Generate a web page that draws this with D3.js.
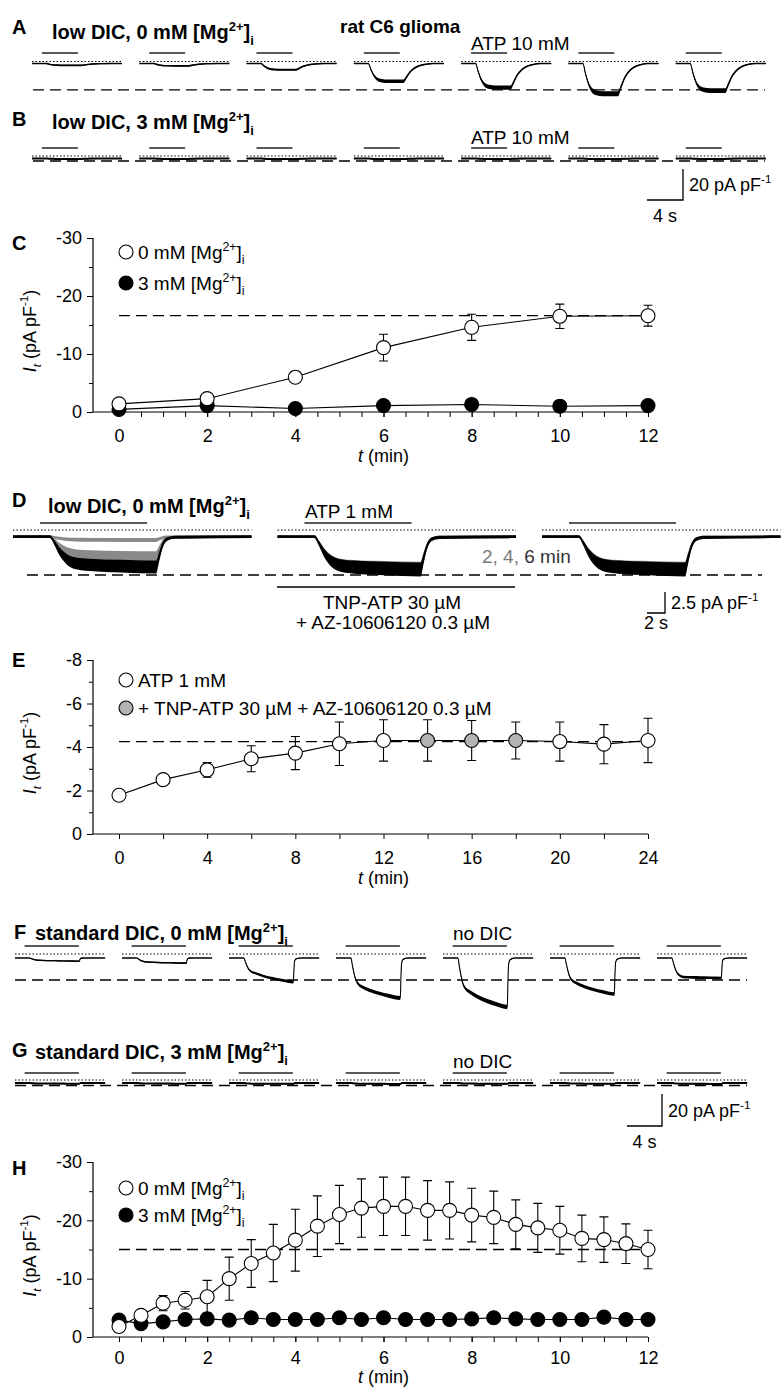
<!DOCTYPE html>
<html>
<head>
<meta charset="utf-8">
<script src="https://cdn.jsdelivr.net/npm/d3@7"></script>
<style>
body{margin:0;background:#fff}
svg{display:block;background:#fff}
text{font-family:"Liberation Sans",Arial,Helvetica,sans-serif;fill:#000}
</style>
</head>
<body>
<svg id="fig" width="783" height="1389"></svg>
<script>
// ---------- data ----------
// A / B : peak current of each ATP 10 mM application, pA pF-1 relative to holding
var aAmp=[-1.2,-1.5,-4.0,-11.5,-15.5,-19.5,-17.5];
var bAmp=[-0.3,-0.3,-0.4,-0.4,-0.3,-0.4,-0.3];
var aHold=-1.3, bHold=-1.6;
var aDash=-18.3, bDash=-3.2;
// trace kinetics [s, fraction of amplitude]
var shapeA=[[0,0],[1.6,0],[1.9,0.35],[2.2,0.65],[2.6,0.88],[3.1,0.97],[3.8,1],[5.5,1],[5.8,0.8],[6.2,0.5],[6.7,0.27],[7.3,0.12],[8,0.04],[8.8,0],[10,0]];

// C
var cTime=[0,2,4,6,8,10,12];
var c0Mg=[-1.4,-2.3,-6.0,-11.1,-14.6,-16.5,-16.6];
var c0MgErr=[0.3,0.3,0.5,2.3,2.25,2.1,1.8];
var c3Mg=[-0.45,-1.1,-0.6,-1.1,-1.3,-1.0,-1.1];
var cPlateau=-16.6;

// D : ATP 1 mM, three groups of superimposed traces (2, 4, 6 min)
var dGroup1=[-0.4,-2.3,-3.6];
var dGroup2=[-3.8,-3.9];
var dGroup3=[-3.8,-3.9];
var dHold=-0.8, dDash=-5.36;
var shapeD=[[0,0],[4.1,0],[4.6,0.2],[5.2,0.5],[6,0.75],[7,0.88],[8.5,0.93],[12,0.97],[15.9,1],[16.2,0.7],[16.6,0.3],[17.1,0.08],[18,0.02],[26.5,0]];

// E
var eTime=[0,2,4,6,8,10,12,14,16,18,20,22,24];
var eAtp=[-1.78,-2.5,-2.95,-3.46,-3.72,-4.15,-4.3,-4.3,-4.3,-4.3,-4.25,-4.13,-4.3];
var eAtpErr=[0.1,0.15,0.34,0.6,0.76,1.0,0.95,0.95,0.92,0.85,0.9,0.9,1.02];
var eBlocker=[0,0,0,0,0,0,0,1,1,1,0,0,0];
var ePlateau=-4.25;

// F / G : [fast, final] amplitude of each application
var fAmp=[[-1.5,-2],[-2.5,-3.2],[-9.4,-15],[-18,-25],[-21,-30.6],[-15.6,-22.5],[-11.9,-12.5]];
var gAmp=[[-0.3,-0.4],[-0.3,-0.4],[-0.4,-0.5],[-0.4,-0.6],[-0.3,-0.5],[-0.3,-0.5],[-0.4,-0.6]];
var fHold=-2.5, gHold=-1.9;
var fDash=-16.25, gDash=-3.4;
// [s, fast weight, slow weight]
var shapeF=[[0,0,0],[1.7,0,0],[1.9,0.3,0],[2.2,0.7,0],[2.6,0.92,0],[3.0,1,0],[4,1,0.35],[5,1,0.6],[6,1,0.8],[7.35,1,1],[7.42,0.5,0.5],[7.5,0.12,0.12],[7.7,0.03,0.03],[8.2,0,0],[10.3,0,0]];

// H
var hTime=[0,0.5,1,1.5,2,2.5,3,3.5,4,4.5,5,5.5,6,6.5,7,7.5,8,8.5,9,9.5,10,10.5,11,11.5,12];
var h0Mg=[-1.8,-3.7,-5.8,-6.3,-6.9,-10.0,-12.6,-14.4,-16.6,-19.0,-21.0,-22.1,-22.4,-22.4,-21.7,-21.7,-20.9,-20.5,-19.3,-18.7,-18.3,-16.9,-16.7,-16.0,-15.0];
var h0MgErr=[0.3,0.6,1.3,1.5,2.8,3.7,4.1,4.9,5.3,5.2,5.0,5.0,5.0,5.0,5.1,4.9,4.6,4.5,4.2,4.2,4.1,4.0,3.9,3.4,3.3];
var h3Mg=[-2.9,-2.3,-2.6,-3.0,-3.1,-2.9,-3.3,-3.0,-3.0,-3.0,-3.3,-3.0,-3.3,-3.0,-3.0,-3.0,-3.1,-3.3,-3.1,-3.0,-3.0,-3.0,-3.4,-3.0,-3.0];
var hPlateau=-15;

// ---------- helpers ----------
var svg=d3.select("#fig");
var FONT='"Liberation Sans", Arial, Helvetica, sans-serif';
var AX=93; // x of the y axes

function rich(g,x,y,parts,size,o){
  o=o||{};
  var t=g.append("text").attr("x",x).attr("y",y).attr("font-size",size)
    .attr("text-anchor",o.anchor||"start");
  if(o.bold) t.attr("font-weight","bold");
  if(o.rotate) t.attr("transform","rotate(-90,"+x+","+y+")");
  var shift=0;
  parts.forEach(function(p){
    var st=p[1]||"";
    var tgt=/sup/.test(st)? -0.42*size : (/sub/.test(st)? 0.28*size : 0);
    var s=t.append("tspan").attr("dy",tgt-shift).text(p[0]);
    shift=tgt;
    if(tgt) s.attr("font-size",size*0.65);
    if(/it/.test(st)) s.attr("font-style","italic");
    if(p[2]) s.attr("fill",p[2]);
  });
  return t;
}
function mg(c){ return [[c+" mM [Mg"],["2+","sup"],["]"],["i","sub"]]; }
function hline(x1,x2,y,o){
  o=o||{};
  return svg.append("line").attr("x1",x1).attr("x2",x2).attr("y1",y).attr("y2",y)
    .attr("stroke",o.c||"#000").attr("stroke-width",o.w||1.2)
    .attr("stroke-dasharray",o.dash||null);
}
function relAt(p,amp){
  if(typeof amp==="number") return p[1]*amp;
  return p[1]*amp[0]+p[2]*(amp[1]-amp[0]);
}

// one row of current recordings
function traceRow(o){
  var g=svg.append("g");
  var ys=d3.scaleLinear().domain([0,-1]).range([o.zero,o.zero+o.ppa]);
  o.groups.forEach(function(grp,i){
    var x0=o.x0+i*o.step;
    var xs=d3.scaleLinear().domain([0,o.len]).range([x0,x0+o.len*o.pxs]);
    g.append("line").attr("x1",x0).attr("x2",xs(o.len)).attr("y1",ys(0)).attr("y2",ys(0))
      .attr("stroke","#000").attr("stroke-width",1.2).attr("stroke-dasharray","1.5,2");
    if(o.barY!=null)
      g.append("line").attr("x1",xs(o.bar[0])).attr("x2",xs(o.bar[1]))
        .attr("y1",o.barY).attr("y2",o.barY).attr("stroke","#222").attr("stroke-width",1.4);
    grp.forEach(function(amp,j){
      var col=o.colors? o.colors[i][j] : "#000";
      var pts=o.shape.map(function(p){
        var r=relAt(p,amp);
        return {x:xs(p[0]),y:ys(o.hold+r),n:o.nz[0]+o.nz[1]*Math.abs(r)*o.ppa};
      });
      g.append("path").datum(pts)
        .attr("d",d3.area().x(function(d){return d.x;}).y0(function(d){return d.y-d.n;})
          .y1(function(d){return d.y+d.n;}).curve(d3.curveMonotoneX))
        .attr("fill",col);
      g.append("path").datum(pts)
        .attr("d",d3.line().x(function(d){return d.x;}).y(function(d){return d.y;}).curve(d3.curveMonotoneX))
        .attr("fill","none").attr("stroke",col).attr("stroke-width",1.1);
    });
  });
  g.append("line").attr("x1",o.dashX[0]).attr("x2",o.dashX[1])
    .attr("y1",ys(o.dash)).attr("y2",ys(o.dash))
    .attr("stroke","#000").attr("stroke-width",1.4).attr("stroke-dasharray","11,6");
  return ys;
}

function scaleBar(x,yBottom,hPx,wPx,label,tLabel,tY){
  svg.append("path").attr("d","M"+(x-wPx)+","+yBottom+"H"+x+"V"+(yBottom-hPx))
    .attr("fill","none").attr("stroke","#000").attr("stroke-width",1.3);
  rich(svg,x+6,yBottom-hPx/2+6.5,label,18);
  rich(svg,x-wPx/2,tY,[[tLabel]],18,{anchor:"middle"});
}

// x/y axes of a summary plot
function plotAxes(xs,ys,o){
  var g=svg.append("g");
  var y0=ys(0);
  var pad=o.pad||12, tOff=o.tOff||50;
  g.append("line").attr("x1",AX).attr("x2",AX).attr("y1",ys(o.top)).attr("y2",y0)
    .attr("stroke","#000").attr("stroke-width",1.2);
  g.append("line").attr("x1",AX).attr("x2",xs.range()[1]).attr("y1",y0).attr("y2",y0)
    .attr("stroke","#000").attr("stroke-width",1.2);
  var ya=g.append("g").attr("transform","translate("+AX+",0)")
    .call(d3.axisLeft(ys).tickValues(o.yMajor).tickFormat(function(d){return String(d);}).tickSize(6).tickPadding(5));
  var ym=g.append("g").attr("transform","translate("+AX+",0)")
    .call(d3.axisLeft(ys).tickValues(o.yMinor).tickFormat("").tickSize(4));
  var xa=g.append("g").attr("transform","translate(0,"+y0+")")
    .call(d3.axisBottom(xs).tickValues(o.xMajor).tickFormat(function(d){return String(d);}).tickSize(5).tickPadding(pad));
  var xm=g.append("g").attr("transform","translate(0,"+y0+")")
    .call(d3.axisBottom(xs).tickValues(o.xMinor).tickFormat("").tickSize(5));
  [ya,ym,xa,xm].forEach(function(a){
    a.select(".domain").remove();
    a.attr("font-size",18).attr("font-family",FONT);
    a.selectAll("line").attr("stroke-width",1);
  });
  rich(svg,(xs.range()[0]+xs.range()[1])/2,y0+tOff,[["t","it"],[" (min)"]],18,{anchor:"middle"});
  rich(svg,36,(ys(o.top)+y0)/2+6,[["I","it"],["t","itsub"],[" (pA pF"],["-1","sup"],[")"]],18,{anchor:"middle",rotate:true});
}

function series(g,xs,ys,t,v,err){
  g.append("path").datum(v)
    .attr("d",d3.line().x(function(d,i){return xs(t[i]);}).y(function(d){return ys(d);}))
    .attr("fill","none").attr("stroke","#000").attr("stroke-width",1.1);
  if(err) v.forEach(function(d,i){
    var x=xs(t[i]), a=ys(d-err[i]), b=ys(d+err[i]);
    g.append("path").attr("d","M"+x+","+a+"V"+b+"M"+(x-4.5)+","+a+"H"+(x+4.5)+"M"+(x-4.5)+","+b+"H"+(x+4.5))
      .attr("fill","none").attr("stroke","#000").attr("stroke-width",1.1);
  });
}
function dots(g,xs,ys,t,v,fill){
  g.selectAll(null).data(v).enter().append("circle")
    .attr("cx",function(d,i){return xs(t[i]);}).attr("cy",function(d){return ys(d);})
    .attr("r",7).attr("fill",typeof fill==="function"?function(d,i){return fill(i);}:fill)
    .attr("stroke","#000").attr("stroke-width",1.1);
}
function legendRow(cx,cy,fill,parts){
  svg.append("circle").attr("cx",cx).attr("cy",cy).attr("r",7).attr("fill",fill)
    .attr("stroke","#000").attr("stroke-width",1.1);
  rich(svg,cx+12,cy+6.8,parts,19);
}

// ---------- A ----------
rich(svg,12,34,[["A"]],20,{bold:true});
rich(svg,52,39,[["low DIC, 0 mM [Mg"],["2+","sup"],["]"],["i","sub"]],20,{bold:true});
rich(svg,340,33,[["rat C6 glioma"]],19,{bold:true});
rich(svg,471,50,[["ATP 10 mM"]],19);
traceRow({groups:aAmp.map(function(a){return [a];}),x0:32,step:107.3,pxs:9,len:10,zero:61.5,ppa:1.55,
  hold:aHold,shape:shapeA,bar:[1.1,5.1],barY:53,nz:[0.7,0.06],dash:aDash,dashX:[33,765]});

// ---------- B ----------
rich(svg,12,126,[["B"]],20,{bold:true});
rich(svg,52,129,[["low DIC, 3 mM [Mg"],["2+","sup"],["]"],["i","sub"]],20,{bold:true});
rich(svg,471,144,[["ATP 10 mM"]],19);
traceRow({groups:bAmp.map(function(a){return [a];}),x0:32,step:107.3,pxs:9,len:10,zero:156,ppa:1.55,
  hold:bHold,shape:shapeA,bar:[1.1,5.1],barY:148,nz:[1.0,0],dash:bDash,dashX:[33,765]});
scaleBar(683,200,20*1.55,4*9,[["20 pA pF"],["-1","sup"]],"4 s",222);

// ---------- C ----------
rich(svg,12,250,[["C"]],20,{bold:true});
var xC=d3.scaleLinear().domain([0,12]).range([119,648]);
var yC=d3.scaleLinear().domain([0,-30]).range([412,238]);
plotAxes(xC,yC,{top:-30,yMajor:[-30,-20,-10,0],yMinor:[-25,-15,-5],xMajor:[0,2,4,6,8,10,12],
  xMinor:d3.range(0,12.01,0.5)});
svg.append("line").attr("x1",xC(0)).attr("x2",xC(12)).attr("y1",yC(cPlateau)).attr("y2",yC(cPlateau))
  .attr("stroke","#000").attr("stroke-width",1.3).attr("stroke-dasharray","11,6");
var gC=svg.append("g");
series(gC,xC,yC,cTime,c3Mg,null);
series(gC,xC,yC,cTime,c0Mg,c0MgErr);
dots(gC,xC,yC,cTime,c3Mg,"#000");
dots(gC,xC,yC,cTime,c0Mg,"#fff");
legendRow(126,252,"#fff",mg("0"));
legendRow(126,283,"#000",mg("3"));

// ---------- D ----------
rich(svg,12,507,[["D"]],20,{bold:true});
rich(svg,48,513,[["low DIC, 0 mM [Mg"],["2+","sup"],["]"],["i","sub"]],20,{bold:true});
rich(svg,305,518,[["ATP 1 mM"]],19);
traceRow({groups:[dGroup1,dGroup2,dGroup3],colors:[["#8a8a8a","#8a8a8a","#000"],["#8a8a8a","#000"],["#8a8a8a","#000"]],
  x0:13,step:264.5,pxs:9,len:26.5,zero:530,ppa:8.4,hold:dHold,shape:shapeD,bar:[3.0,14.9],barY:523,
  nz:[1.4,0.17],dash:dDash,dashX:[27,762]});
rich(svg,482,563,[["2, 4, ","","#7a7a7a"],["6 min","","#333"]],19);
hline(277,515,587,{w:1.3});
rich(svg,392,609,[["TNP-ATP 30 µM"]],19,{anchor:"middle"});
rich(svg,393,629,[["+ AZ-10606120 0.3 µM"]],19,{anchor:"middle"});
scaleBar(665,613,2.5*8.4,2*9,[["2.5 pA pF"],["-1","sup"]],"2 s",629);

// ---------- E ----------
rich(svg,12,667,[["E"]],20,{bold:true});
var xE=d3.scaleLinear().domain([0,24]).range([119,648]);
var yE=d3.scaleLinear().domain([0,-8]).range([834,660]);
plotAxes(xE,yE,{top:-8,yMajor:[-8,-6,-4,-2,0],yMinor:[-7,-5,-3,-1],xMajor:[0,4,8,12,16,20,24],
  xMinor:[2,6,10,14,18,22]});
svg.append("line").attr("x1",xE(0)).attr("x2",xE(24)).attr("y1",yE(ePlateau)).attr("y2",yE(ePlateau))
  .attr("stroke","#000").attr("stroke-width",1.3).attr("stroke-dasharray","11,6");
var gE=svg.append("g");
series(gE,xE,yE,eTime,eAtp,eAtpErr);
dots(gE,xE,yE,eTime,eAtp,function(i){return eBlocker[i]?"#b3b3b3":"#fff";});
legendRow(126,680,"#fff",[["ATP 1 mM"]]);
legendRow(126,708,"#b3b3b3",[["+ TNP-ATP 30 µM + AZ-10606120 0.3 µM"]]);

// ---------- F ----------
rich(svg,14,939,[["F"]],20,{bold:true});
rich(svg,35,940,[["standard DIC, 0 mM [Mg"],["2+","sup"],["]"],["i","sub"]],20,{bold:true});
rich(svg,453,940,[["no DIC"]],19);
traceRow({groups:fAmp.map(function(a){return [a];}),x0:15,step:107,pxs:8.75,len:10.3,zero:954,ppa:1.6,
  hold:fHold,shape:shapeF,bar:[1.1,7.3],barY:946,nz:[0.6,0.035],dash:fDash,dashX:[15,747]});

// ---------- G ----------
rich(svg,12,1057,[["G"]],20,{bold:true});
rich(svg,35,1059,[["standard DIC, 3 mM [Mg"],["2+","sup"],["]"],["i","sub"]],20,{bold:true});
rich(svg,453,1068,[["no DIC"]],19);
traceRow({groups:gAmp.map(function(a){return [a];}),x0:15,step:107,pxs:8.75,len:10.3,zero:1080,ppa:1.6,
  hold:gHold,shape:shapeF,bar:[1.1,7.3],barY:1073,nz:[1.0,0],dash:gDash,dashX:[15,747]});
scaleBar(662,1126,20*1.6,4*8.75,[["20 pA pF"],["-1","sup"]],"4 s",1148);

// ---------- H ----------
rich(svg,12,1175,[["H"]],20,{bold:true});
var xH=d3.scaleLinear().domain([0,12]).range([119,648]);
var yH=d3.scaleLinear().domain([0,-30]).range([1337,1162]);
plotAxes(xH,yH,{top:-30,yMajor:[-30,-20,-10,0],yMinor:[-25,-15,-5],xMajor:[0,2,4,6,8,10,12],
  xMinor:hTime,pad:9,tOff:46});
svg.append("line").attr("x1",xH(0)).attr("x2",xH(12)).attr("y1",yH(hPlateau)).attr("y2",yH(hPlateau))
  .attr("stroke","#000").attr("stroke-width",1.3).attr("stroke-dasharray","11,6");
var gH=svg.append("g");
series(gH,xH,yH,hTime,h3Mg,null);
series(gH,xH,yH,hTime,h0Mg,h0MgErr);
dots(gH,xH,yH,hTime,h3Mg,"#000");
dots(gH,xH,yH,hTime,h0Mg,"#fff");
legendRow(126,1188,"#fff",mg("0"));
legendRow(126,1215,"#000",mg("3"));
</script>
</body>
</html>
